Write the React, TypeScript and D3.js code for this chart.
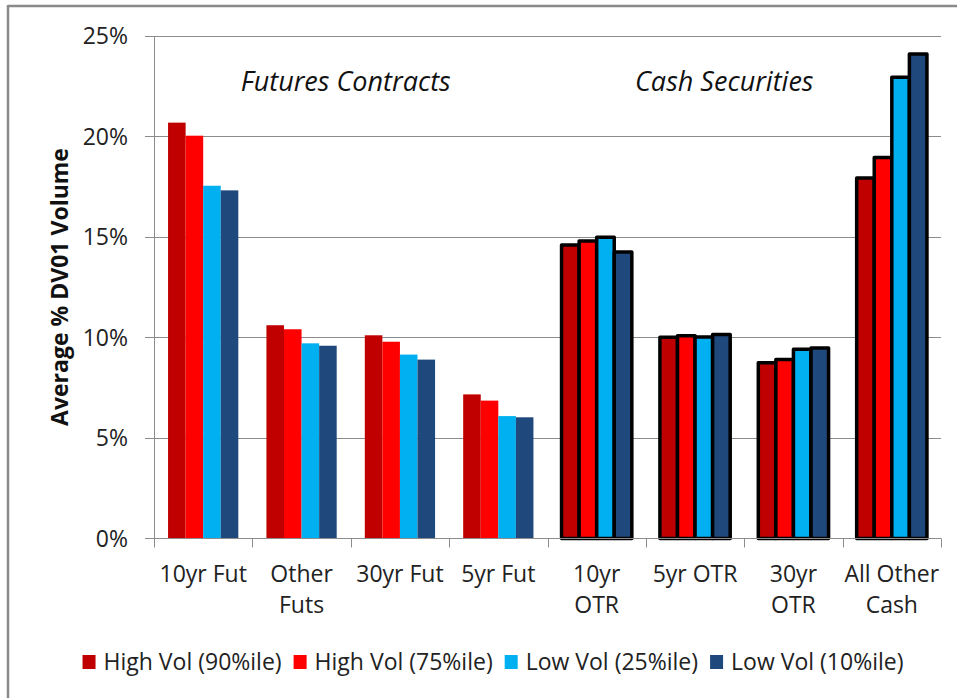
import React, { useEffect, useRef } from "react";
import * as d3 from "d3";

const categories = ["10yr Fut", "Other Futs", "30yr Fut", "5yr Fut", "10yr OTR", "5yr OTR", "30yr OTR", "All Other Cash"];
const categoryLines = [["10yr Fut"], ["Other", "Futs"], ["30yr Fut"], ["5yr Fut"], ["10yr", "OTR"], ["5yr OTR"], ["30yr", "OTR"], ["All Other", "Cash"]];
const cashCategories = ["10yr OTR", "5yr OTR", "30yr OTR", "All Other Cash"];

const seriesNames = ["High Vol (90%ile)", "High Vol (75%ile)", "Low Vol (25%ile)", "Low Vol (10%ile)"];
const seriesColors = ["#C00000", "#FF0000", "#00B0F0", "#1F497D"];

// values in %, one array per series, same order as categories
const highVol90 = [20.69, 10.61, 10.11, 7.17, 14.6, 10.01, 8.75, 17.93];
const highVol75 = [20.04, 10.41, 9.79, 6.86, 14.8, 10.09, 8.9, 18.96];
const lowVol25 = [17.55, 9.71, 9.15, 6.09, 14.99, 10.02, 9.41, 22.95];
const lowVol10 = [17.32, 9.59, 8.9, 6.03, 14.25, 10.15, 9.48, 24.1];
const seriesValues = [highVol90, highVol75, lowVol25, lowVol10];

const yTicks = [0, 5, 10, 15, 20, 25];

const W = 957;
const H = 698;
const font = "'Open Sans', sans-serif";

const Chart = () => {
  const ref = useRef<SVGSVGElement>(null);

  useEffect(() => {
    const svg = d3.select(ref.current);
    svg.selectAll("*").remove();

    const left = 154;
    const right = 941;
    const top = 36;
    const bottom = 538.5;

    const x = d3.scaleBand().domain(categories).range([left, right]);
    const xs = d3.scaleBand().domain(seriesNames).range([0, x.bandwidth()]).paddingOuter(0.8);
    const y = d3.scaleLinear().domain([0, 25]).range([bottom, top]);

    // outer frame (only left and top visible)
    svg.append("line").attr("x1", 8).attr("x2", 8).attr("y1", 5).attr("y2", H).attr("stroke", "#8a8a8a").attr("stroke-width", 2.5);
    svg.append("line").attr("x1", 8).attr("x2", W).attr("y1", 6).attr("y2", 6).attr("stroke", "#8a8a8a").attr("stroke-width", 2.5);

    // gridlines + y ticks
    svg
      .selectAll(".grid")
      .data(yTicks.filter((d) => d > 0))
      .enter()
      .append("line")
      .attr("x1", left - 9)
      .attr("x2", right)
      .attr("y1", (d) => Math.round(y(d)) + 0.5)
      .attr("y2", (d) => Math.round(y(d)) + 0.5)
      .attr("stroke", "#8c8c8c")
      .attr("stroke-width", 1);

    svg
      .selectAll(".ylab")
      .data(yTicks)
      .enter()
      .append("text")
      .attr("x", 128)
      .attr("y", (d) => y(d) + 8)
      .attr("text-anchor", "end")
      .attr("font-family", font)
      .attr("font-size", 23)
      .attr("fill", "#222")
      .text((d) => d + "%");

    // bars
    const groups = svg
      .selectAll(".cat")
      .data(categories)
      .enter()
      .append("g")
      .attr("transform", (d) => `translate(${x(d)},0)`);

    groups.each(function (cat, ci) {
      const isCash = cashCategories.includes(cat);
      const g = d3.select(this);
      const rects = g
        .selectAll("rect")
        .data(seriesNames.map((s, si) => ({ s, si, v: seriesValues[si][ci] })))
        .enter()
        .append("rect")
        .attr("x", (d) => xs(d.s)!)
        .attr("width", xs.bandwidth())
        .attr("y", (d) => y(d.v))
        .attr("height", (d) => bottom - y(d.v))
        .attr("fill", (d) => seriesColors[d.si]);
      if (isCash) {
        rects.attr("stroke", "#000").attr("stroke-width", 3.5).attr("stroke-linejoin", "round");
      }
    });

    // axes lines
    svg.append("line").attr("x1", left + 0.5).attr("x2", left + 0.5).attr("y1", top).attr("y2", bottom + 9).attr("stroke", "#8c8c8c");
    svg.append("line").attr("x1", left - 9).attr("x2", right).attr("y1", bottom).attr("y2", bottom).attr("stroke", "#8c8c8c");
    svg
      .selectAll(".xtick")
      .data(categories.map((c) => x(c)! + x.bandwidth()))
      .enter()
      .append("line")
      .attr("x1", (d) => Math.round(d) + 0.5)
      .attr("x2", (d) => Math.round(d) + 0.5)
      .attr("y1", bottom)
      .attr("y2", bottom + 9)
      .attr("stroke", "#8c8c8c");

    // x labels
    categories.forEach((c, i) => {
      const t = svg
        .append("text")
        .attr("x", x(c)! + x.bandwidth() / 2)
        .attr("y", 582)
        .attr("text-anchor", "middle")
        .attr("font-family", font)
        .attr("font-size", 23)
        .attr("fill", "#222");
      categoryLines[i].forEach((line, li) => {
        t.append("tspan")
          .attr("x", x(c)! + x.bandwidth() / 2)
          .attr("dy", li === 0 ? 0 : 31)
          .text(line);
      });
    });

    // y title
    svg
      .append("text")
      .attr("transform", `translate(68,287) rotate(-90)`)
      .attr("text-anchor", "middle")
      .attr("font-family", font)
      .attr("font-size", 23)
      .attr("font-weight", "bold")
      .attr("fill", "#111")
      .text("Average % DV01 Volume");

    // section headings
    const futCenter = (x(categories[0])! + x(categories[3])! + x.bandwidth()) / 2 - 5;
    const cashCenter = (x(categories[4])! + x(categories[7])! + x.bandwidth()) / 2 - 20;
    [
      ["Futures Contracts", futCenter],
      ["Cash Securities", cashCenter],
    ].forEach(([label, cx]) => {
      svg
        .append("text")
        .attr("x", cx as number)
        .attr("y", 91)
        .attr("text-anchor", "middle")
        .attr("font-family", font)
        .attr("font-style", "italic")
        .attr("font-size", 27)
        .attr("fill", "#111")
        .text(label as string);
    });

    // legend, laid out left to right and centered
    const legend = svg.append("g");
    let cursor = 0;
    seriesNames.forEach((s, i) => {
      const item = legend.append("g").attr("transform", `translate(${cursor},0)`);
      item.append("rect").attr("x", 0).attr("y", -7).attr("width", 13).attr("height", 14).attr("fill", seriesColors[i]);
      const t = item
        .append("text")
        .attr("x", 21)
        .attr("y", 8)
        .attr("font-family", font)
        .attr("font-size", 23)
        .attr("fill", "#222")
        .text(s);
      const w = (t.node() as SVGTextElement).getComputedTextLength();
      cursor += 21 + w + 12;
    });
    const total = cursor - 12;
    legend.attr("transform", `translate(${493 - total / 2},662)`);
  }, []);

  return <svg ref={ref} width={W} height={H} style={{ position: "absolute", left: 0, top: 0, background: "#fff" }} />;
};

export default function App() {
  return <Chart />;
}
